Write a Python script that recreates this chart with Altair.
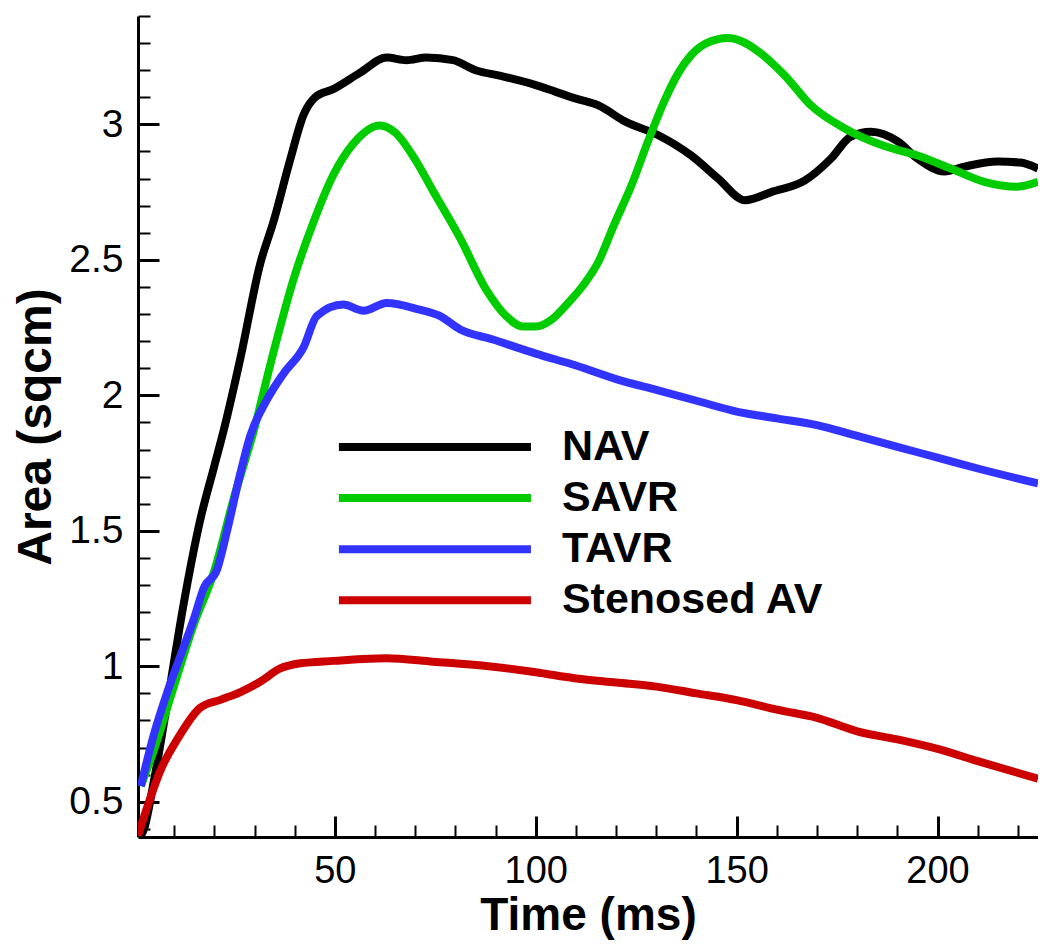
import altair as alt
import pandas as pd

# ---------------- data ----------------
series = ["NAV", "SAVR", "TAVR", "Stenosed AV"]
colors = ["#000000", "#00CC00", "#3333FF", "#CC0000"]

nav_t = [1.5, 2.5, 5, 8.3, 12.4, 16.5, 19.9, 22.3, 26.5, 31.4, 34.7, 38.9, 42.2, 45.1, 49.6,
         56.2, 62.9, 67.8, 72.8, 79.4, 85.2, 91, 100, 105, 110, 115.6, 122.3, 130.5, 138.7,
         145.4, 152.1, 158.6, 167, 173.5, 178.4, 183.4, 190.1, 195, 201.7, 206.7, 214.9, 220.6, 225]
nav_v = [0.37, 0.40, 0.58, 0.866, 1.233, 1.541, 1.734, 1.869, 2.138, 2.485, 2.64, 2.871, 3.035,
         3.10, 3.13, 3.19, 3.247, 3.237, 3.247, 3.237, 3.199, 3.18, 3.145, 3.12, 3.095, 3.07,
         3.01, 2.96, 2.885, 2.80, 2.72, 2.75, 2.793, 2.874, 2.955, 2.973, 2.937, 2.874, 2.826,
         2.844, 2.863, 2.859, 2.837]

savr_t = [1.7, 5, 9.9, 14.9, 19.9, 24.8, 29.8, 34.7, 39.7, 44.7, 49.6, 54.6, 61.2, 65, 70, 74.4,
          81.1, 87.7, 92.6, 96.8, 100, 104, 108, 112, 115.6, 119.5, 123.8, 128, 132.3, 135.5,
          138.7, 142.5, 147.9, 151.5, 155.3, 162, 168.5, 176.9, 186.8, 195, 203.3, 211.6, 219.9, 225]
savr_v = [0.558, 0.693, 0.924, 1.155, 1.348, 1.618, 1.869, 2.158, 2.428, 2.64, 2.813, 2.929,
          2.996, 2.97, 2.87, 2.755, 2.582, 2.389, 2.293, 2.254, 2.254, 2.28, 2.34, 2.41, 2.493,
          2.63, 2.774, 2.94, 3.096, 3.19, 3.256, 3.30, 3.319, 3.305, 3.27, 3.18, 3.07, 2.985, 2.92,
          2.885, 2.837, 2.788, 2.77, 2.788]

tavr_t = [1.7, 5, 8.3, 11.6, 14.9, 17.4, 20.7, 23.2, 26.5, 28.9, 33.1, 37.2, 42.2, 45.5, 52.1,
          57.1, 62.9, 71.1, 76.1, 81.1, 89.3, 100, 110, 120, 130, 140, 150, 160, 170, 180, 190,
          200, 210, 225]
tavr_v = [0.558, 0.751, 0.905, 1.04, 1.175, 1.29, 1.358, 1.502, 1.714, 1.849, 1.984, 2.08,
          2.177, 2.293, 2.335, 2.312, 2.341, 2.316, 2.293, 2.244, 2.206, 2.154, 2.11, 2.06, 2.02,
          1.98, 1.94, 1.915, 1.89, 1.85, 1.81, 1.77, 1.73, 1.675]

sten_t = [1, 3.3, 6.6, 10.8, 16.5, 21.5, 26.5, 31.4, 36.4, 41.4, 49.6, 62.9, 74.4, 87.7, 100,
          110, 120, 130, 140, 150, 160, 170, 180, 190, 200, 210, 225]
sten_v = [0.375, 0.481, 0.616, 0.731, 0.847, 0.876, 0.905, 0.943, 0.992, 1.011, 1.02, 1.03,
          1.017, 1.001, 0.978, 0.955, 0.94, 0.925, 0.9, 0.875, 0.84, 0.81, 0.76, 0.73, 0.695,
          0.65, 0.585]

x_major = [50, 100, 150, 200]
x_minor = list(range(10, 230, 10))
y_major = [0.5, 1, 1.5, 2, 2.5, 3]
y_minor = [round(0.4 + 0.1 * i, 1) for i in range(31)]

# ---------------- layout constants ----------------
W, H = 900, 821
X_DOM = [1, 225]
Y_DOM = [0.37, 3.4]
FONT = "Liberation Sans"
LW = 8

# legend placement (data units)
LEG_X1, LEG_X2, LEG_TX = 51.0, 98.8, 106.5
LEG_Y = [1.809, 1.621, 1.432, 1.244]

rows = []
for name, ts, vs in zip(series, [nav_t, savr_t, tavr_t, sten_t], [nav_v, savr_v, tavr_v, sten_v]):
    for t, v in zip(ts, vs):
        rows.append({"series": name, "t": t, "v": v})
df = pd.DataFrame(rows)

leg = pd.DataFrame({"series": series, "x1": [LEG_X1] * 4, "x2": [LEG_X2] * 4,
                    "tx": [LEG_TX] * 4, "y": LEG_Y})

xs = alt.Scale(domain=X_DOM, nice=False, zero=False)
ys = alt.Scale(domain=Y_DOM, nice=False, zero=False)
color = alt.Color("series:N", scale=alt.Scale(domain=series, range=colors), legend=None)

x_axis_main = alt.Axis(values=x_major, format="d", tickSize=0, labelPadding=15,
                       labelFont=FONT, labelFontSize=38, labelColor="black",
                       domainColor="black", domainWidth=3, grid=False,
                       title="Time (ms)", titleFont=FONT, titleFontSize=46,
                       titleFontWeight="bold", titleColor="black",
                       titleBaseline="alphabetic", titleY=92, titleX=W / 2)
y_axis_main = alt.Axis(values=y_major, format="~g", tickSize=0, labelPadding=15,
                       labelFont=FONT, labelFontSize=39, labelColor="black",
                       domainColor="black", domainWidth=3, grid=False,
                       title="Area (sqcm)", titleFont=FONT, titleFontSize=48,
                       titleFontWeight="bold", titleColor="black",
                       titleAngle=-90, titleBaseline="alphabetic", titleAlign="center",
                       titleX=-88, titleY=H / 2)

x_major_test = "datum.value % 50 === 0"
y_major_test = "abs(datum.value * 2 - round(datum.value * 2)) < 0.000001"

x_axis_ticks = alt.Axis(orient="top", offset=-H, values=x_minor, labels=False, domain=False,
                        grid=False, title=None, tickColor="black",
                        tickSize={"condition": {"test": x_major_test, "value": 21}, "value": 12},
                        tickWidth={"condition": {"test": x_major_test, "value": 3}, "value": 2})
y_axis_ticks = alt.Axis(orient="right", offset=-W, values=y_minor, labels=False, domain=False,
                        grid=False, title=None, tickColor="black",
                        tickSize={"condition": {"test": y_major_test, "value": 21}, "value": 12},
                        tickWidth={"condition": {"test": y_major_test, "value": 3}, "value": 2})

lines = alt.Chart(df).mark_line(strokeWidth=LW, interpolate="monotone", clip=True,
                                strokeCap="butt").encode(
    x=alt.X("t:Q", scale=xs, axis=x_axis_main),
    y=alt.Y("v:Q", scale=ys, axis=y_axis_main),
    color=color,
    detail="series:N",
)

leg_lines = alt.Chart(leg).mark_rule(strokeWidth=LW, strokeCap="butt").encode(
    x=alt.X("x1:Q", scale=xs, axis=x_axis_ticks),
    x2="x2:Q",
    y=alt.Y("y:Q", scale=ys, axis=y_axis_ticks),
    color=color,
)

leg_text = alt.Chart(leg).mark_text(align="left", baseline="middle", font=FONT,
                                    fontSize=43, fontWeight="bold", color="black").encode(
    x=alt.X("tx:Q", scale=xs, axis=None),
    y=alt.Y("y:Q", scale=ys, axis=None),
    text="series:N",
)

chart = alt.layer(lines, leg_lines, leg_text).resolve_axis(
    x="independent", y="independent"
).properties(
    width=W, height=H,
    autosize=alt.AutoSizeParams(type="none"),
    padding={"left": 130, "top": 8, "right": 0, "bottom": 103},
    background="white",
).configure_view(stroke=None)

chart.save("out.html", embed_options={"renderer": "svg", "actions": False})
